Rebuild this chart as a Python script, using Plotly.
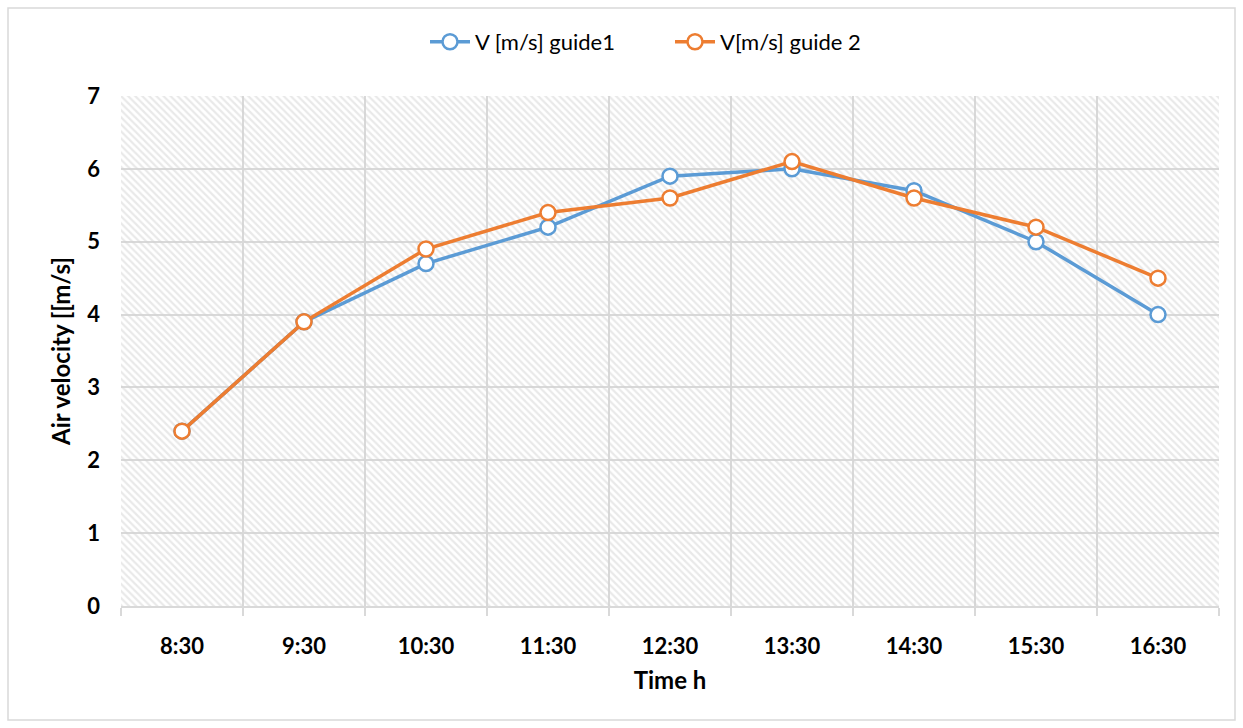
import plotly.graph_objects as go

# Measurement times (category labels) and air velocity readings for both guides
times = ["8:30", "9:30", "10:30", "11:30", "12:30", "13:30", "14:30", "15:30", "16:30"]
v_guide1 = [2.4, 3.9, 4.7, 5.2, 5.9, 6.0, 5.7, 5.0, 4.0]
v_guide2 = [2.4, 3.9, 4.9, 5.4, 5.6, 6.1, 5.6, 5.2, 4.5]

BLUE = "#5B9BD5"
ORANGE = "#ED7D31"
GRID = "#d9d9d9"
FONT = "Lato"

pos = list(range(len(times)))
x_lo, x_hi = -0.5, len(times) - 0.5
y_lo, y_hi = 0, 7

fig = go.Figure()

# Hatched plot-area background spanning the full axis ranges
fig.add_trace(go.Scatter(
    x=[x_lo, x_hi, x_hi, x_lo, x_lo],
    y=[y_lo, y_lo, y_hi, y_hi, y_lo],
    mode="none",
    fill="toself",
    fillcolor="rgba(0,0,0,0)",
    fillpattern=dict(shape="\\", size=5, solidity=0.45,
                     fgcolor="#d3d3d3", bgcolor="rgba(0,0,0,0)"),
    showlegend=False,
    hoverinfo="skip",
))

for name, vals, col in [("V [m/s] guide1", v_guide1, BLUE),
                        ("V[m/s] guide 2", v_guide2, ORANGE)]:
    fig.add_trace(go.Scatter(
        x=pos, y=vals, name=name, mode="lines+markers",
        line=dict(color=col, width=3.5),
        marker=dict(symbol="circle", size=15, color="white",
                    line=dict(color=col, width=2.5)),
    ))

fig.update_layout(
    width=1243, height=728,
    margin=dict(l=121, r=24, t=96, b=122),
    paper_bgcolor="white",
    plot_bgcolor="white",
    font=dict(family=FONT, color="black"),
    legend=dict(orientation="h", x=0.5, xanchor="center",
                y=1.106, yanchor="middle",
                font=dict(size=22, family=FONT), itemwidth=40,
                entrywidth=190, entrywidthmode="pixels",
                traceorder="normal"),
    shapes=[dict(type="rect", xref="paper", yref="paper",
                 x0=(8 - 121) / 1098, x1=(1235 - 121) / 1098,
                 y0=(606 - 720) / 510, y1=(606 - 8) / 510,
                 line=dict(color=GRID, width=1.5), layer="below")],
)

fig.update_xaxes(
    range=[x_lo, x_hi],
    tickvals=pos, ticktext=times,
    showgrid=False, zeroline=False,
    ticks="", ticklabelstandoff=20,
    tickfont=dict(size=22, family=FONT, color="black", weight="bold"),
    showline=True, linecolor=GRID, linewidth=1.5,
    minor=dict(tickvals=[p - 0.5 for p in pos] + [x_hi],
               showgrid=True, gridcolor=GRID, gridwidth=1.5,
               ticks="outside", ticklen=8, tickcolor=GRID, tickwidth=1.5),
    title=dict(text="Time h", standoff=14,
               font=dict(size=24, family=FONT, color="black", weight="bold")),
)

fig.update_yaxes(
    range=[y_lo, y_hi], dtick=1,
    showgrid=True, gridcolor=GRID, gridwidth=1.5,
    zeroline=False, showline=False,
    ticks="", ticklabelstandoff=20,
    tickfont=dict(size=22, family=FONT, color="black", weight="bold"),
    title=dict(text="Air velocity [[m/s]", standoff=9,
               font=dict(size=24, family=FONT, color="black", weight="bold")),
)

fig.write_html("out.html")
